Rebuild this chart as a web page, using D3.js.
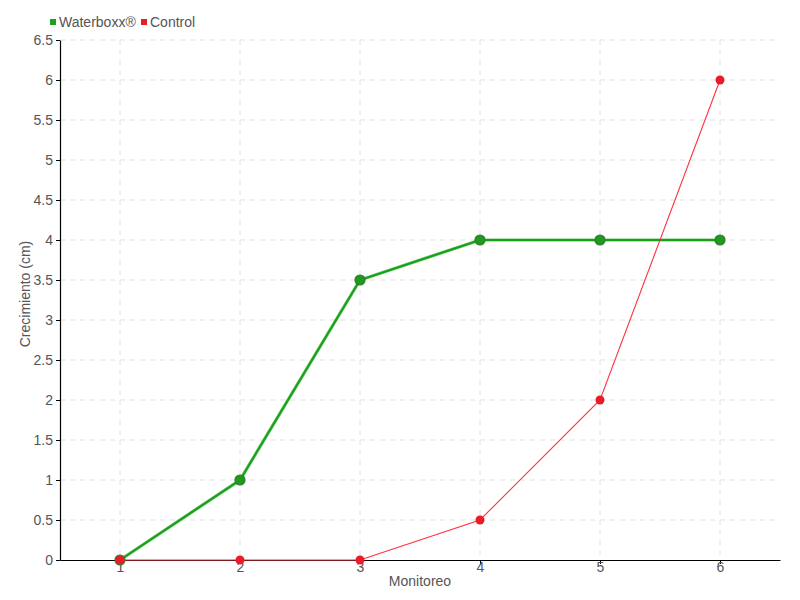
<!DOCTYPE html>
<html>
<head>
<meta charset="utf-8">
<script src="https://cdn.jsdelivr.net/npm/d3@7"></script>
<style>
  body { margin: 0; background: #fff; }
  text { font-family: "Liberation Sans Narrow", "Liberation Sans", sans-serif; fill: #555; }
</style>
</head>
<body>
<svg id="chart" width="800" height="600"></svg>
<script>
// データ
const monitoreo = [1, 2, 3, 4, 5, 6];
const waterboxx = [0, 1, 3.5, 4, 4, 4];
const control = [0, 0, 0, 0.5, 2, 6];
const yTicks = [0, 0.5, 1, 1.5, 2, 2.5, 3, 3.5, 4, 4.5, 5, 5.5, 6, 6.5];

const margin = { left: 60, right: 20, top: 40, bottom: 40 };
const width = 800, height = 600;

const svg = d3.select("#chart");

const x = d3.scaleLinear().domain([0.5, 6.5]).range([margin.left, width - margin.right]);
const y = d3.scaleLinear().domain([0, 6.5]).range([height - margin.bottom, margin.top]);

// グリッド
svg.append("g")
   .selectAll("line")
   .data(yTicks.slice(1))
   .enter()
   .append("line")
   .attr("x1", margin.left).attr("x2", width - margin.right)
   .attr("y1", (d) => y(d)).attr("y2", (d) => y(d))
   .attr("stroke", "#e0e0e0").attr("stroke-dasharray", "5,5");

svg.append("g")
   .selectAll("line")
   .data(monitoreo)
   .enter()
   .append("line")
   .attr("x1", (d) => x(d)).attr("x2", (d) => x(d))
   .attr("y1", margin.top).attr("y2", height - margin.bottom)
   .attr("stroke", "#e0e0e0").attr("stroke-dasharray", "5,5");

// 軸
const fmt = d3.format("~g");
const xAxis = svg.append("g")
   .attr("transform", `translate(0,${height - margin.bottom})`)
   .call(d3.axisBottom(x).tickValues(monitoreo).tickFormat(fmt).tickSize(4).tickPadding(0).tickSizeOuter(0));
const yAxis = svg.append("g")
   .attr("transform", `translate(${margin.left},0)`)
   .call(d3.axisLeft(y).tickValues(yTicks).tickFormat(fmt).tickSize(4).tickPadding(3).tickSizeOuter(0));

[xAxis, yAxis].forEach((g) => {
   g.select(".domain").attr("stroke", "#000").attr("stroke-width", 1.2);
   g.selectAll(".tick line").attr("stroke", "#000");
   g.selectAll(".tick text").style("font-size", "14px").attr("fill", "#555");
});
xAxis.selectAll(".tick text").attr("dy", "0.55em");

svg.append("text")
   .attr("x", (margin.left + width - margin.right) / 2)
   .attr("y", 586)
   .attr("text-anchor", "middle")
   .style("font-size", "14px")
   .text("Monitoreo");

svg.append("text")
   .attr("transform", `translate(30,${(margin.top + height - margin.bottom) / 2 - 6}) rotate(-90)`)
   .attr("text-anchor", "middle")
   .style("font-size", "14px")
   .text("Crecimiento (cm)");

// 系列
const line = d3.line().x((d, i) => x(monitoreo[i])).y((d) => y(d));

svg.append("path")
   .datum(waterboxx)
   .attr("d", line)
   .attr("fill", "none")
   .attr("stroke", "#6cc86c").attr("stroke-width", 3.2);
svg.append("path")
   .datum(waterboxx)
   .attr("d", line)
   .attr("fill", "none")
   .attr("stroke", "#18a018").attr("stroke-width", 2);
svg.append("g")
   .selectAll("circle")
   .data(waterboxx)
   .enter()
   .append("circle")
   .attr("cx", (d, i) => x(monitoreo[i]))
   .attr("cy", (d) => y(d))
   .attr("r", 5)
   .attr("fill", "#1e9a1e")
   .attr("stroke", "#2f7a2f").attr("stroke-width", 1.2);

svg.append("path")
   .datum(control)
   .attr("d", line)
   .attr("fill", "none")
   .attr("stroke", "#ff3040").attr("stroke-width", 1.1);
svg.append("g")
   .selectAll("circle")
   .data(control)
   .enter()
   .append("circle")
   .attr("cx", (d, i) => x(monitoreo[i]))
   .attr("cy", (d) => y(d))
   .attr("r", 4.5)
   .attr("fill", "#e81c2a");

// 凡例
const legend = [
   { name: "Waterboxx®", color: "#1ea01e", x: 50 },
   { name: "Control", color: "#e81c2a", x: 141 }
];
const lg = svg.append("g")
   .selectAll("g")
   .data(legend)
   .enter()
   .append("g")
   .attr("transform", (d) => `translate(${d.x},0)`);
lg.append("rect")
   .attr("x", 0).attr("y", 19)
   .attr("width", 6).attr("height", 6)
   .attr("fill", (d) => d.color);
lg.append("text")
   .attr("x", 9).attr("y", 27)
   .style("font-size", "14px")
   .text((d) => d.name);
</script>
</body>
</html>
